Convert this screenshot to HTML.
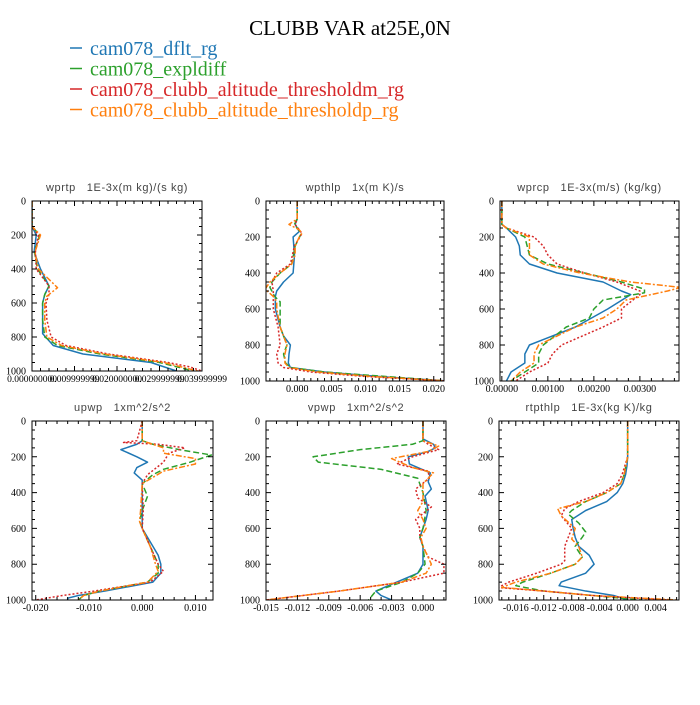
<!DOCTYPE html>
<html><head><meta charset="utf-8">
<style>
html,body{margin:0;padding:0;background:#fff;}
svg text{font-family:"Liberation Serif",serif;}
.pt{font-family:"Liberation Sans",sans-serif;font-size:11px;fill:#444;letter-spacing:0.6px;white-space:pre;}
</style></head>
<body>
<svg id="chart" width="700" height="700" viewBox="0 0 700 700" xmlns="http://www.w3.org/2000/svg">
<text x="350" y="35" text-anchor="middle" font-size="21" fill="#000">CLUBB VAR at25E,0N</text>
<g>
<g><line x1="70" y1="48" x2="82" y2="48" stroke="#1f77b4" stroke-width="1.5"/><text x="90" y="55" font-size="20" fill="#1f77b4">cam078_dflt_rg</text></g>
<g><line x1="70" y1="68.5" x2="82" y2="68.5" stroke="#2ca02c" stroke-width="1.5"/><text x="90" y="75.5" font-size="20" fill="#2ca02c">cam078_expldiff</text></g>
<g><line x1="70" y1="89" x2="82" y2="89" stroke="#d62728" stroke-width="1.5"/><text x="90" y="96" font-size="20" fill="#d62728">cam078_clubb_altitude_thresholdm_rg</text></g>
<g><line x1="70" y1="109.5" x2="82" y2="109.5" stroke="#ff7f0e" stroke-width="1.5"/><text x="90" y="116.5" font-size="20" fill="#ff7f0e">cam078_clubb_altitude_thresholdp_rg</text></g>
</g>
</svg>
<script>
// ---- data (pressure levels hPa, values) ----
const seriesNames = ['dflt','expldiff','thresholdm','thresholdp'];
// wprtp
const wprtpLevB=[0,150,200,300,400,500,550,600,700,780,850,900,950,1000];
const wprtpValB=[0,0,0.001,0.0005,0.002,0.004,0.003,0.0025,0.0025,0.0025,0.005,0.012,0.028,0.034];
const wprtpLevG=[0,150,200,300,400,500,550,600,700,800,850,900,950,1000];
const wprtpValG=[0,0,0.0018,0.0006,0.0013,0.004,0.003,0.0025,0.0025,0.003,0.006,0.016,0.030,0.038];
const wprtpLevR=[0,150,200,300,400,500,550,600,700,800,850,900,950,975,1000];
const wprtpValR=[0,0,0.0015,0.0008,0.001,0.004,0.004,0.0033,0.0035,0.0045,0.008,0.018,0.032,0.037,0.040];
const wprtpLevO=[0,150,200,300,400,510,560,600,700,800,850,900,950,1000];
const wprtpValO=[0,0,0.002,0.0007,0.0015,0.006,0.0035,0.003,0.003,0.0035,0.007,0.017,0.031,0.039];
// wpthlp
const wpthlpLevB=[0,100,130,170,200,300,400,450,500,530,600,700,750,800,850,900,925,950,975,1000];
const wpthlpValB=[0,0,-0.0003,0.0003,-0.0006,-0.0004,-0.0006,-0.002,-0.003,-0.0032,-0.0032,-0.0025,-0.002,-0.001,-0.0012,-0.0013,-0.001,0.004,0.012,0.022];
const wpthlpLevG=[0,100,130,180,250,350,400,450,480,530,560,600,700,800,850,900,925,950,975,1000];
const wpthlpValG=[0,0,-0.0004,0.0006,-0.0003,-0.0008,-0.0025,-0.0037,-0.004,-0.0033,-0.0025,-0.0025,-0.0025,-0.0015,-0.002,-0.0017,-0.001,0.004,0.013,0.022];
const wpthlpLevR=[0,100,130,180,250,350,400,450,500,550,600,700,800,850,900,925,950,975,1000];
const wpthlpValR=[0,0,-0.0003,0.0007,-0.0004,-0.001,-0.003,-0.0037,-0.0035,-0.0035,-0.0035,-0.0028,-0.0025,-0.003,-0.0028,-0.002,0.002,0.010,0.022];
const wpthlpLevO=[0,100,130,160,180,200,250,300,350,400,450,490,530,560,600,700,800,850,900,925,950,975,1000];
const wpthlpValO=[0,0,-0.0012,0.0003,0.0007,0.0003,-0.0003,-0.0003,-0.0008,-0.0025,-0.004,-0.0047,-0.0035,-0.003,-0.003,-0.0025,-0.0015,-0.0018,-0.0018,-0.0012,0.003,0.011,0.022];
// wprcp
const wprcpLevB=[0,130,150,200,250,300,350,400,450,500,520,600,700,770,800,850,900,950,1000];
const wprcpValB=[0,0,0.0001,0.0003,0.00038,0.0004,0.0006,0.0012,0.0022,0.0026,0.0028,0.0023,0.0016,0.0009,0.0006,0.0005,0.0005,0.0002,0.0001];
const wprcpLevG=[0,130,150,200,300,350,400,450,490,510,550,600,650,700,800,850,900,950,1000];
const wprcpValG=[0,0,0.0001,0.0005,0.0006,0.001,0.0018,0.0026,0.0031,0.0031,0.0022,0.002,0.0019,0.0014,0.0009,0.0008,0.0008,0.0005,0.0002];
const wprcpLevR=[0,130,150,200,250,300,350,400,450,500,520,600,650,700,800,850,900,950,1000];
const wprcpValR=[0,0,0.0001,0.0007,0.0009,0.001,0.0012,0.0018,0.0025,0.003,0.003,0.0026,0.0026,0.0022,0.0013,0.0011,0.001,0.0006,0.0003];
const wprcpLevO=[0,130,150,200,300,350,400,450,480,500,550,600,650,700,800,850,900,950,1000];
const wprcpValO=[0,0,0.0001,0.0006,0.0006,0.0009,0.0017,0.0028,0.0039,0.0036,0.0027,0.0025,0.0022,0.0016,0.0008,0.0007,0.0007,0.0004,0.0002];
// upwp
const upwpLevB=[0,110,130,160,200,230,260,290,330,400,500,600,700,750,800,850,900,950,975,990,1000];
const upwpValB=[0,0,-0.001,-0.004,-0.001,0.001,-0.001,-0.0015,0,0,0,0,0.002,0.003,0.0035,0.0035,0.002,-0.007,-0.012,-0.014,-0.014];
const upwpLevG=[0,110,130,160,190,230,270,300,350,420,500,560,600,700,800,850,900,950,975,1000];
const upwpValG=[0,0,0.002,0.007,0.013,0.009,0.004,0.002,0,0.001,0,-0.0005,0,0.0015,0.003,0.003,0.001,-0.008,-0.011,-0.012];
const upwpLevR=[0,110,120,130,150,180,230,300,350,500,600,700,800,840,900,950,975,1000];
const upwpValR=[0,-0.001,-0.0035,0.003,0.008,0.005,0.004,0.001,0,0.0002,0,0.0015,0.003,0.004,0.0015,-0.009,-0.015,-0.020];
const upwpLevO=[0,110,130,150,180,210,240,280,350,500,560,600,700,800,840,900,950,975,1000];
const upwpValO=[0,0,0.002,0.004,0.004,0.010,0.010,0.004,0,-0.0003,-0.0005,0,0.0015,0.0025,0.003,0.001,-0.008,-0.011,-0.012];
// vpwp
const vpwpLevB=[0,100,130,150,170,200,240,290,340,380,420,500,550,600,650,700,800,850,900,950,975,1000];
const vpwpValB=[0,0,0.001,0.0012,0.0005,-0.0014,-0.0013,0.0007,0.0005,0.0008,0.0002,0.0005,0.0003,0,-0.0003,0,0,-0.0005,-0.0025,-0.0045,-0.004,-0.003];
const vpwpLevG=[0,110,130,160,200,230,270,320,400,500,600,650,700,800,850,900,950,1000];
const vpwpValG=[0,0,-0.001,-0.006,-0.0105,-0.010,-0.004,-0.0005,0,0.0003,0,-0.0003,0,0.0002,-0.0005,-0.002,-0.0045,-0.0052];
const vpwpLevR=[0,110,130,160,200,240,280,320,380,430,480,550,600,650,700,760,800,850,900,950,1000];
const vpwpValR=[0,0,0.0005,0.0015,-0.001,-0.0025,0.0005,0.0006,-0.0007,-0.0005,0.0008,-0.0007,-0.0003,-0.0003,0,0.0005,0.002,0.002,-0.002,-0.008,-0.015];
const vpwpLevO=[0,110,140,170,210,260,290,350,450,500,550,600,650,700,800,850,900,950,1000];
const vpwpValO=[0,0,0.0015,0.0005,-0.003,-0.001,0.001,0,0,-0.0005,0,0.0003,-0.0002,0,0.0008,0.0003,-0.002,-0.008,-0.015];
// rtpthlp
const rtpLevB=[0,200,250,300,350,400,450,500,550,600,650,700,750,800,850,900,920,950,975,1000];
const rtpValB=[0,0,-0.0001,-0.0003,-0.0007,-0.0015,-0.003,-0.006,-0.008,-0.0078,-0.0075,-0.007,-0.0055,-0.0048,-0.006,-0.0095,-0.0098,-0.006,-0.002,0];
const rtpLevG=[0,200,300,350,400,450,500,520,570,620,650,700,760,800,850,900,920,950,975,1000];
const rtpValG=[0,0,-0.0005,-0.001,-0.003,-0.006,-0.008,-0.0085,-0.007,-0.006,-0.0065,-0.0075,-0.0065,-0.0075,-0.011,-0.015,-0.016,-0.012,-0.005,0.002];
const rtpLevR=[0,200,300,350,400,450,490,530,600,650,700,780,800,850,900,930,950,975,1000];
const rtpValR=[0,0,-0.0008,-0.0015,-0.0035,-0.007,-0.009,-0.0095,-0.008,-0.0085,-0.009,-0.009,-0.0095,-0.013,-0.017,-0.0185,-0.012,-0.005,0.006];
const rtpLevO=[0,200,300,350,400,450,490,530,600,660,700,760,800,850,900,930,950,975,1000];
const rtpValO=[0,0,-0.0005,-0.001,-0.003,-0.006,-0.010,-0.0095,-0.0075,-0.008,-0.007,-0.0065,-0.0075,-0.011,-0.016,-0.018,-0.012,-0.005,0.007];
// x tick labels
const wprtpTicks=[0,0.01,0.02,0.03,0.04];
const wprtpTickLabels=['0.000000000','0.009999999','0.020000000','0.029999999','0.039999999'];
const wpthlpTicks=[0,0.005,0.01,0.015,0.02];
const wpthlpTickLabels=['0.000','0.005','0.010','0.015','0.020'];
const wprcpTicks=[0,0.001,0.002,0.003];
const wprcpTickLabels=['0.00000','0.00100','0.00200','0.00300'];
const upwpTicks=[-0.02,-0.01,0,0.01];
const upwpTickLabels=['-0.020','-0.010','0.000','0.010'];
const vpwpTicks=[-0.015,-0.012,-0.009,-0.006,-0.003,0];
const vpwpTickLabels=['-0.015','-0.012','-0.009','-0.006','-0.003','0.000'];
const rtpTicks=[-0.016,-0.012,-0.008,-0.004,0,0.004];
const rtpTickLabels=['-0.016','-0.012','-0.008','-0.004','0.000','0.004'];
const yTicks=[0,200,400,600,800,1000];

const colors=['#1f77b4','#2ca02c','#d62728','#ff7f0e'];
const dashes=['','6,3','2,2','6,2,2,2'];
const panels=[
 {name:'wprtp',title:'wprtp   1E-3x(m kg)/(s kg)',L:32,R:202,T:201,B:371,xmin:0,xmax:0.04,minor:0.002,ticks:wprtpTicks,labels:wprtpTickLabels,lfs:9.5,
  s:[[wprtpLevB,wprtpValB],[wprtpLevG,wprtpValG],[wprtpLevR,wprtpValR],[wprtpLevO,wprtpValO]]},
 {name:'wpthlp',title:'wpthlp   1x(m K)/s',L:266,R:444,T:201,B:381,xmin:-0.00457,xmax:0.0215,minor:0.001,ticks:wpthlpTicks,labels:wpthlpTickLabels,lfs:10,
  s:[[wpthlpLevB,wpthlpValB],[wpthlpLevG,wpthlpValG],[wpthlpLevR,wpthlpValR],[wpthlpLevO,wpthlpValO]]},
 {name:'wprcp',title:'wprcp   1E-3x(m/s) (kg/kg)',L:500,R:679,T:201,B:381,xmin:-0.00004,xmax:0.00385,minor:0.00025,ticks:wprcpTicks,labels:wprcpTickLabels,lfs:10,
  s:[[wprcpLevB,wprcpValB],[wprcpLevG,wprcpValG],[wprcpLevR,wprcpValR],[wprcpLevO,wprcpValO]]},
 {name:'upwp',title:'upwp   1xm^2/s^2',L:32,R:213,T:421,B:600,xmin:-0.0207,xmax:0.0133,minor:0.002,ticks:upwpTicks,labels:upwpTickLabels,lfs:10,
  s:[[upwpLevB,upwpValB],[upwpLevG,upwpValG],[upwpLevR,upwpValR],[upwpLevO,upwpValO]]},
 {name:'vpwp',title:'vpwp   1xm^2/s^2',L:266,R:446,T:421,B:600,xmin:-0.015,xmax:0.0022,minor:0.001,ticks:vpwpTicks,labels:vpwpTickLabels,lfs:10,
  s:[[vpwpLevB,vpwpValB],[vpwpLevG,vpwpValG],[vpwpLevR,vpwpValR],[vpwpLevO,vpwpValO]]},
 {name:'rtpthlp',title:'rtpthlp   1E-3x(kg K)/kg',L:499,R:679,T:421,B:600,xmin:-0.0184,xmax:0.00734,minor:0.001,ticks:rtpTicks,labels:rtpTickLabels,lfs:10,
  s:[[rtpLevB,rtpValB],[rtpLevG,rtpValG],[rtpLevR,rtpValR],[rtpLevO,rtpValO]]}
];
const NS='http://www.w3.org/2000/svg';
const svg=document.getElementById('chart');
function mk(tag,attrs,parent){const e=document.createElementNS(NS,tag);for(const k in attrs)e.setAttribute(k,attrs[k]);parent.appendChild(e);return e;}
panels.forEach(p=>{
  const sx=v=>p.L+(v-p.xmin)/(p.xmax-p.xmin)*(p.R-p.L);
  const sy=v=>p.T+v/1000*(p.B-p.T);
  const g=mk('g',{},svg);
  
  
  const t=mk('text',{x:(p.L+p.R)/2,y:p.T-10,'text-anchor':'middle',class:'pt'},g);
  t.textContent=p.title;
  
  
  const clip='clip-'+p.name;
  const cp=mk('clipPath',{id:clip},g);mk('rect',{x:p.L,y:p.T,width:p.R-p.L,height:p.B-p.T},cp);
  const lg=mk('g',{'clip-path':'url(#'+clip+')'},g);
  p.s.forEach((s,i)=>{
    const pts=s[0].map((lev,j)=>sx(s[1][j]).toFixed(2)+','+sy(lev).toFixed(2)).join(' ');
    const pl=mk('polyline',{points:pts,fill:'none',stroke:colors[i],'stroke-width':1.5,'stroke-dasharray':dashes[i],'stroke-linejoin':'round'},lg);
    
    
  });
  const box=mk('rect',{x:p.L,y:p.T,width:p.R-p.L,height:p.B-p.T,fill:'none',stroke:'#000','stroke-width':1},g);
  
  
  let tk='';
  for(let v=0;v<=1000;v+=50){const y=sy(v),L=(v%200===0)?5:3;tk+=`M${p.L},${y}h${L}M${p.R},${y}h${-L}`;}
  const start=Math.ceil(p.xmin/p.minor-1e-6);
  for(let k=start;k*p.minor<=p.xmax+1e-9;k++){const v=k*p.minor,x=sx(v);const maj=p.ticks.some(t=>Math.abs(t-v)<p.minor/4);const L=maj?5:3;tk+=`M${x},${p.B}v${-L}M${x},${p.T}v${L}`;}
  const tp=mk('path',{d:tk,stroke:'#000','stroke-width':1,fill:'none'},g);
  
  
  yTicks.forEach(v=>{const e=mk('text',{x:p.L-6,y:sy(v)+3.5,'text-anchor':'end','font-size':10},g);e.textContent=v;
    
    });
  p.ticks.forEach((v,i)=>{const e=mk('text',{x:sx(v),y:p.B+11,'text-anchor':'middle','font-size':p.lfs},g);e.textContent=p.labels[i];
    
    });
});
</script>
</body></html>
